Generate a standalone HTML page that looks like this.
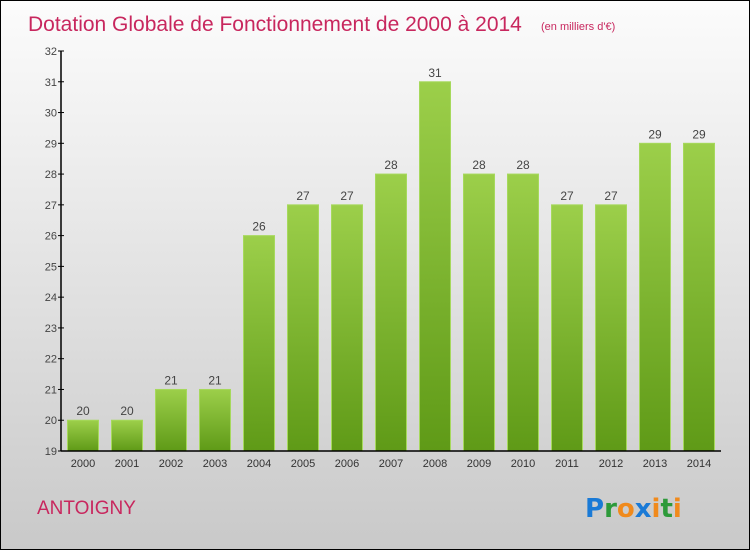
<!DOCTYPE html>
<html><head><meta charset="utf-8"><style>
body{margin:0;}
#c{position:relative;width:748px;height:548px;border:1px solid #000;background:linear-gradient(#fcfcfc,#c9c9c9);font-family:"Liberation Sans",sans-serif;overflow:hidden}
</style></head><body>
<div id="c">
<svg width="748" height="548" style="position:absolute;left:0;top:0">
<defs><linearGradient id="g" x1="0" y1="0" x2="0" y2="1"><stop offset="0" stop-color="#9ccf4a"/><stop offset="1" stop-color="#5f9a17"/></linearGradient></defs>
<text x="27" y="30" font-size="21" fill="#c8275e">Dotation Globale de Fonctionnement de 2000 à 2014</text>
<text x="540" y="29" font-size="11" fill="#c8275e">(en milliers d'€)</text>
<g id="plot"></g>
<text x="36" y="513" font-size="19" fill="#c8275e">ANTOIGNY</text>
<g font-size="26" font-weight="bold" font-family="'DejaVu Sans',sans-serif">
<text x="584" y="516"><tspan fill="#1a7ad6">P</tspan><tspan fill="#2d9a3a">r</tspan><tspan fill="#f08a1c">o</tspan><tspan fill="#1a7ad6">x</tspan><tspan fill="#f08a1c">i</tspan><tspan fill="#2d9a3a">t</tspan><tspan fill="#f08a1c">i</tspan></text></g>
</svg>
</div>
<script>
const years=["2000","2001","2002","2003","2004","2005","2006","2007","2008","2009","2010","2011","2012","2013","2014"];
const values=[20,20,21,21,26,27,27,28,31,28,28,27,27,29,29];
const yTicks=[19,20,21,22,23,24,25,26,27,28,29,30,31,32];
const ns="http://www.w3.org/2000/svg";
const g=document.getElementById('plot');
const x0=60,x1=720,yTop=50,yBot=450,vMin=19,vMax=32;
const y=v=>yBot-(v-vMin)/(vMax-vMin)*(yBot-yTop);
const step=44,first=82;
const x=i=>first+i*step;
function mk(t,a){const e=document.createElementNS(ns,t);for(const k in a)e.setAttribute(k,a[k]);g.appendChild(e);return e;}
values.forEach((v,i)=>{
 const r=mk('rect',{x:x(i)-15.5,y:y(v),width:31,height:yBot-y(v),fill:'url(#g)',stroke:'#a6d95c','stroke-width':1});
 
 
 const t=mk('text',{x:x(i),y:y(v)-5,'text-anchor':'middle','font-size':12,fill:'#444'});t.textContent=v;
 
 
 const xl=mk('text',{x:x(i),y:466,'text-anchor':'middle','font-size':11,fill:'#333'});xl.textContent=years[i];
 
 
});
yTicks.forEach(v=>{
 mk('line',{x1:x0-3,x2:x0+3,y1:y(v),y2:y(v),stroke:'#000'});
 const t=mk('text',{x:x0-4,y:y(v)+4,'text-anchor':'end','font-size':11,fill:'#444'});t.textContent=v;
 
 
});
const ya=mk('line',{x1:x0,x2:x0,y1:yTop,y2:yBot,stroke:'#000','stroke-width':1.5});


const xa=mk('line',{x1:x0,x2:x1,y1:yBot,y2:yBot,stroke:'#000','stroke-width':1.5});


</script>
</body></html>
